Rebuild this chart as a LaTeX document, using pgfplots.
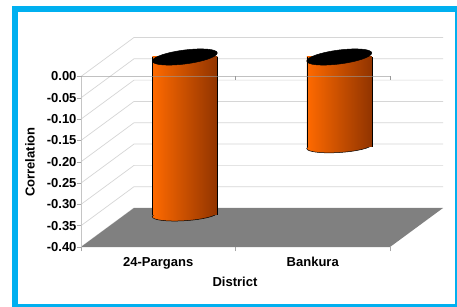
\documentclass[border=0pt]{standalone}
\usepackage{pgfplots}
\usepackage{pgfplotstable}
\pgfplotsset{compat=1.18}
\usepackage{fontspec}
\setmainfont{Liberation Sans}
\definecolor{framec}{RGB}{0,176,240}
\definecolor{orL}{RGB}{255,106,0}
\definecolor{orR}{RGB}{145,52,0}
\definecolor{gridc}{RGB}{214,214,214}
\definecolor{floorc}{RGB}{128,128,128}
\pgfdeclarehorizontalshading{cylshade}{100bp}{color(0bp)=(orL); color(25bp)=(orL); color(75bp)=(orR); color(100bp)=(orR)}
\pgfdeclareplotmark{cyltop}{\pgfpathellipse{\pgfpointorigin}{\pgfpoint{32.5pt}{4pt}}{\pgfpoint{0pt}{7pt}}\pgfusepathqfillstroke}
\pgfdeclareplotmark{cylbot}{\pgfpathellipse{\pgfpointorigin}{\pgfpoint{32.5pt}{2pt}}{\pgfpoint{0pt}{6pt}}\pgfshadepath{cylshade}{0}\pgfusepathqstroke}
\pgfplotstableread{
x v
0.5 -0.37
1.5 -0.21
}\cyl
\newcommand{\lblfont}{\fontsize{13}{15}\selectfont\bfseries}
\pgfplotsset{cylaxis/.style={
  anchor=south west, scale only axis,
  width=362pt, height=209.5pt,
  xmin=0, xmax=2.343, ymin=-0.40, ymax=0.0915,
  hide axis, clip=false}}
\begin{document}
\begin{tikzpicture}
\useasboundingbox (0,0) rectangle (457pt,306pt);
\fill[white] (0,0) rectangle (457pt,306pt);
% frame axis
\begin{axis}[
  at={(81pt,59pt)}, anchor=south west, scale only axis,
  width=362pt, height=209.5pt,
  xmin=0, xmax=2.343, ymin=-0.40, ymax=0.0915,
  axis x line*=bottom, axis y line*=left,
  x axis line style={draw=none}, y axis line style={draw=none},
  xtick={0,1,2}, xticklabels={},
  extra x ticks={0.5,1.5}, extra x tick labels={24-Pargans,Bankura},
  extra x tick style={major tick length=0pt, xticklabel style={yshift=-7pt}},
  ytick={-0.40,-0.35,-0.30,-0.25,-0.20,-0.15,-0.10,-0.05,0},
  yticklabels={-0.40,-0.35,-0.30,-0.25,-0.20,-0.15,-0.10,-0.05,0.00},
  yticklabel style={xshift=3pt},
  tick align=outside, major tick length=4pt,
  tick style={gray!70, thin},
  ticklabel style={font=\lblfont, text=black},
  clip=false,
]
\pgfplotsinvokeforeach{-0.40,-0.35,-0.30,-0.25,-0.20,-0.15,-0.10,-0.05,0}{
  \draw[gridc, line width=0.7pt] (axis cs:0,#1) -- ++(53pt,39pt) -- ++(309pt,0pt);
}
\fill[floorc] (axis cs:0,-0.40) -- (axis cs:2,-0.40) -- ++(53pt,39pt) -- ++(-309pt,0pt) -- cycle;
\draw[gridc!80!gray, line width=0.7pt] (axis cs:0,-0.40) -- (axis cs:0,0);
\end{axis}
% bottom ends of the cylinders (mid depth)
\begin{axis}[cylaxis, at={(107.5pt,78.5pt)}]
\addplot[only marks, mark=cylbot, mark options={draw=black, line width=0.5pt}] table[x=x, y=v] {\cyl};
\end{axis}
% cylinder bodies and tops (mid depth)
\begin{axis}[cylaxis, at={(107.5pt,78.5pt)}]
\addplot[ybar, bar width=0.4207, draw=none, left color=orL, right color=orR, skip coords between index={1}{2}] table[x=x, y=v] {\cyl};
\addplot[ybar, bar width=0.4207, draw=none, left color=orL, right color=orR, skip coords between index={0}{1}] table[x=x, y=v] {\cyl};
\addplot[ycomb, black, line width=0.5pt, mark=none, x filter/.expression={x-0.21035}] table[x=x, y=v] {\cyl};
\addplot[ycomb, black, line width=0.5pt, mark=none, x filter/.expression={x+0.21035}] table[x=x, y=v] {\cyl};
\addplot[only marks, mark=cyltop, mark options={fill=black, draw=black, line width=0.5pt}] table[x=x, y expr=0] {\cyl};
\draw[gray!80, line width=0.7pt, opacity=0.6] (axis cs:0,0) ++(-26.5pt,-19.5pt) -- ++(309pt,0pt);
\draw[gray!80, line width=0.7pt] (axis cs:1,0) ++(-26.5pt,-19.5pt) -- ++(0pt,-4pt);
\draw[gray!80, line width=0.7pt] (axis cs:2,0) ++(-26.5pt,-19.5pt) -- ++(0pt,-4pt);
\end{axis}
\node[font=\lblfont] at (235pt,24pt) {District};
\node[font=\lblfont, rotate=90] at (30pt,144pt) {Correlation};
\draw[framec, line width=6pt] (15pt,297pt) rectangle (458pt,-1pt);
\end{tikzpicture}
\end{document}
